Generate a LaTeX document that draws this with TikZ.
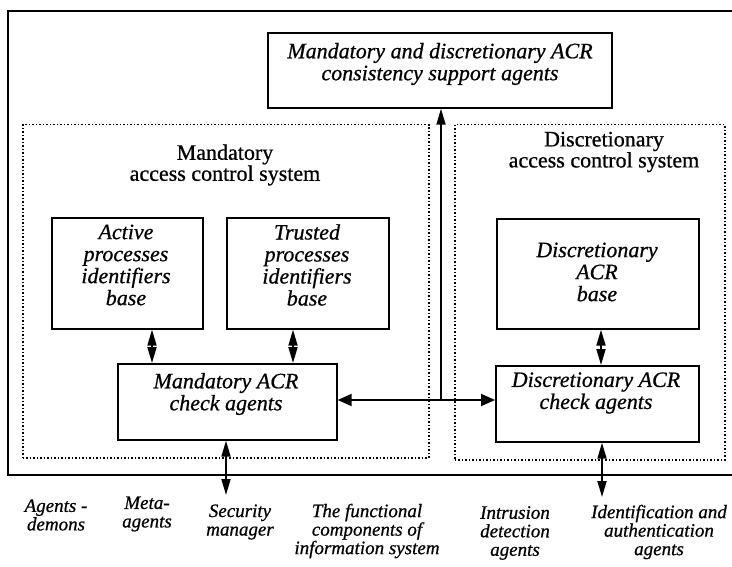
\documentclass[tikz,border=0pt]{standalone}
\usepackage{fontspec}
\setmainfont{Liberation Serif}[FakeBold=0.7]
\usetikzlibrary{arrows.meta,calc}

\begin{document}
\begin{tikzpicture}[x=1pt,y=-1pt,
  box/.style={draw, line width=1.7pt, rectangle, inner sep=0pt, anchor=north west},
  zone/.style={draw, line width=1.5pt, dotted, rectangle, inner sep=0pt, anchor=north west},
  btext/.style={align=center, inner sep=0pt, font=\itshape\fontsize{22}{22}\selectfont},
  htext/.style={align=center, inner sep=0pt, font=\fontsize{22}{20}\selectfont},
  ltext/.style={align=center, inner sep=0pt, font=\itshape\fontsize{19}{18.5}\selectfont},
  link/.style={line width=1.8pt, -{Triangle[length=16pt,width=9pt]}},
  dbl/.style={line width=1.8pt, {Triangle[length=16pt,width=9pt]}-{Triangle[length=16pt,width=9pt]}},
  hdbl/.style={line width=1.8pt, {Triangle[length=14pt,width=12pt]}-{Triangle[length=14pt,width=12pt]}},
  frame/.style={line width=1.7pt}]

\useasboundingbox (0,0) rectangle (732,567);

% outer frame of the information system (open on the right)
\draw[frame] (732,11) -- (8,11) -- (8,475) -- (732,475);

% subsystem zones
\node[zone, minimum width=406pt, minimum height=333pt] (mz) at (22,124) {};
\node[zone, minimum width=270pt, minimum height=335pt] (dz) at (454,124) {};
\node[htext] (mzt) at (225,165) {Mandatory\\access control system};
\node[htext] (dzt) at (604,152) {Discretionary\\access control system};

% consistency support agents
\node[box, minimum width=344pt, minimum height=75pt] (top) at (267,32) {};
\node[btext] (topt) at (440,64) {Mandatory and discretionary ACR\\consistency support agents};

% mandatory side
\node[box, minimum width=151pt, minimum height=111pt] (act) at (51,217) {};
\node[btext] (actt) at (126,265) {Active\\processes\\identifiers\\base};
\node[box, minimum width=162pt, minimum height=111pt] (tru) at (226,217) {};
\node[btext] (trut) at (307,265) {Trusted\\processes\\identifiers\\base};
\node[box, minimum width=219pt, minimum height=76pt] (chk) at (117,363) {};
\node[btext] (chkt) at (226,394) {Mandatory ACR\\check agents};

% discretionary side
\node[box, minimum width=202pt, minimum height=110pt] (dba) at (496,218) {};
\node[btext] (dbat) at (597,272) {Discretionary\\ACR\\base};
\node[box, minimum width=203pt, minimum height=76pt] (dch) at (495,365) {};
\node[btext] (dcht) at (596,393) {Discretionary ACR\\check agents};

% connector positions
\coordinate (xa) at (152,0);
\coordinate (xt) at (293,0);
\coordinate (xd) at (601,0);
\coordinate (xs) at (226,0);
\coordinate (xi) at (602,0);
\coordinate (xv) at (441,0);
\coordinate (ymid) at (0,400);
\coordinate (sout) at (226,495);
\coordinate (iout) at (602,497);

% connectors
\draw[dbl] (act.south -| xa) -- (chk.north -| xa);
\draw[dbl] (tru.south -| xt) -- (chk.north -| xt);
\draw[dbl] (dba.south -| xd) -- (dch.north -| xd);
\draw[hdbl] (chk.east |- ymid) -- (dch.west |- ymid);
\draw[link] (xv |- ymid) -- (top.south -| xv);
\draw[dbl] (chk.south -| xs) -- (sout);
\draw[dbl] (dch.south -| xi) -- (iout);

% external components
\node[ltext] (l1) at (56,515) {Agents -\\demons};
\node[ltext] (l2) at (147,514) {Meta-\\agents};
\node[ltext] (l3) at (240,522) {Security\\manager};
\node[ltext] (l4) at (367,531) {The functional\\components of\\information system};
\node[ltext] (l5) at (515,533) {Intrusion\\detection\\agents};
\node[ltext] (l6) at (659,532) {Identification and\\authentication\\agents};
\end{tikzpicture}
\end{document}
